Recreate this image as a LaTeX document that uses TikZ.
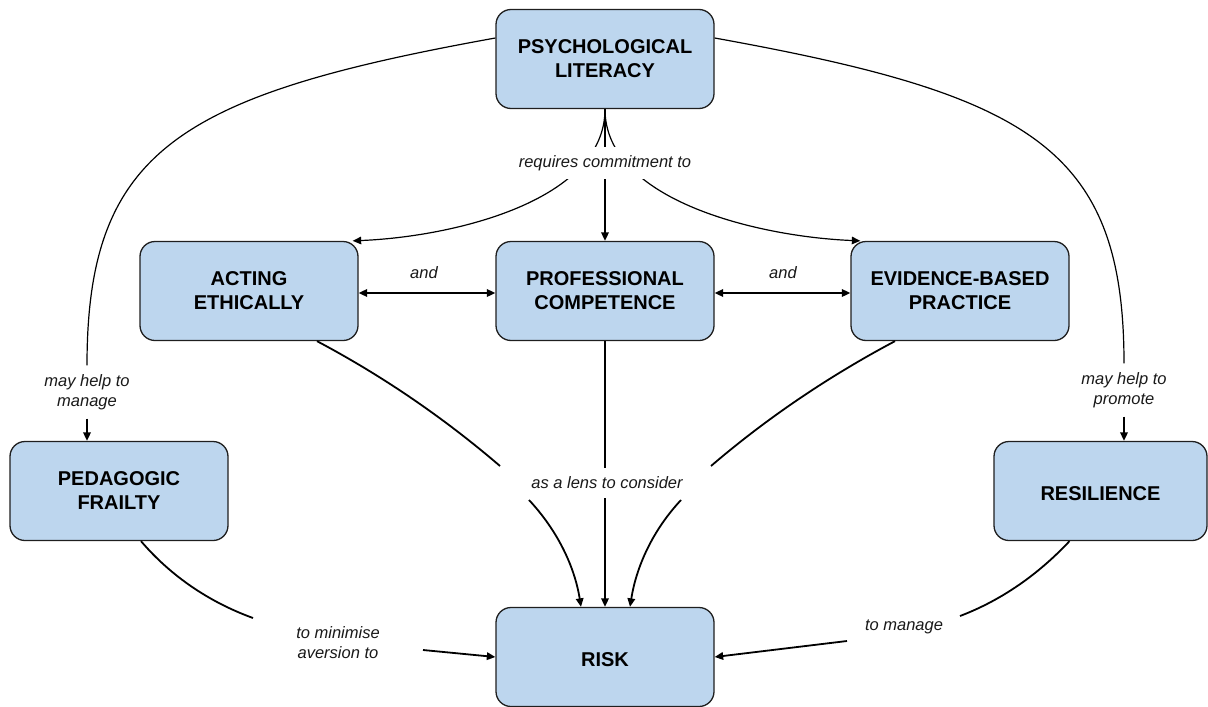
\documentclass[tikz,border=0pt]{standalone}
\usepackage{fontspec}
\setmainfont{Liberation Sans}
\usepackage{tikz}
\usetikzlibrary{arrows.meta, calc, positioning}

\definecolor{conceptblue}{RGB}{189,214,238}

\begin{document}
\begin{tikzpicture}[x=1pt, y=-1pt,
    >={Triangle[length=8.5pt, width=7.5pt]},
    concept/.style={draw=black!88, line width=1.3pt, fill=conceptblue,
        rounded corners=15pt, minimum width=218pt, minimum height=99pt,
        align=center, font=\fontsize{20}{24}\selectfont\bfseries,
        execute at begin node={\rule{0pt}{20pt}}},
    phrase/.style={fill=white, align=center, inner xsep=4pt, inner ysep=8.8pt,
        text=black!90, font=\fontsize{16.5}{20}\selectfont\itshape},
    thinlink/.style={line width=1.2pt},
    link/.style={line width=1.8pt}]
    \useasboundingbox (0,0) rectangle (1208,707);

    % Concepts
    \node[concept] (psy) at (605,59) {PSYCHOLOGICAL\\LITERACY};
    \node[concept] (ae) at (249,291) {ACTING\\ETHICALLY};
    \node[concept] (pc) at (605,291) {PROFESSIONAL\\COMPETENCE};
    \node[concept] (ebp) at (960,291) {EVIDENCE-BASED\\PRACTICE};
    \node[concept] (pf) at (119,491) {PEDAGOGIC\\FRAILTY};
    \node[concept, minimum width=213pt] (res) at (1100.5,491) {RESILIENCE};
    \node[concept] (risk) at (605,657) {RISK};

    % Links passing behind a phrase
    \draw[thinlink, ->] (psy.south) .. controls +(0,92) and +(100,-4) .. ([xshift=-6pt]ae.north east);
    \draw[thinlink, ->] (psy.south) .. controls +(0,92) and +(-100,-4) .. ([xshift=10pt]ebp.north west);
    \draw[link, ->] (psy) -- (pc);
    \draw[link, ->] (pc) -- (risk);

    % Linking phrases
    \node[phrase] (req) at (605,163) {requires commitment to};
    \node[phrase] (and1) at (424,273) {and};
    \node[phrase] (and2) at (783,273) {and};
    \node[phrase] (manage1) at (87,392) {may help to\\manage};
    \node[phrase] (promote) at (1124,390) {may help to\\promote};
    \node[phrase] (lens) at (607,483) {as a lens to consider};
    \node[phrase] (minimise) at (338,643) {to minimise\\aversion to};
    \node[phrase] (manage2) at (904,627) {to manage};

    % Links
    \draw[link, <->] ([yshift=-2pt]ae.east) -- ([yshift=-2pt]pc.west);
    \draw[link, <->] ([yshift=-2pt]pc.east) -- ([yshift=-2pt]ebp.west);

    \draw[thinlink] ([yshift=21pt]psy.west) .. controls +(-316,57) and +(0,-215) .. (manage1.north);
    \draw[link, ->] (manage1.south) -- (manage1.south |- pf.north);
    \draw[thinlink] ([yshift=21pt]psy.east) .. controls +(316,57) and +(0,-215) .. (promote.north);
    \draw[link, ->] (promote.south) -- (promote.south |- res.north);

    \draw[link] ([xshift=68pt]ae.south) .. controls +(66,35) and +(-56,-48) .. ([shift={(-107,-17)}]lens.center);
    \draw[link] ([xshift=-65pt]ebp.south) .. controls +(-66,35) and +(56,-48) .. ([shift={(104,-17)}]lens.center);
    \draw[link, ->] ([shift={(-78,17)}]lens.center) .. controls +(28,30) and +(-6.5,-41) .. ([xshift=-24pt]risk.north);
    \draw[link, ->] ([shift={(74,17)}]lens.center) .. controls +(-28,30) and +(6.5,-41) .. ([xshift=25pt]risk.north);

    \draw[link] ([xshift=22pt]pf.south) .. controls +(30,35) and +(-44,-16) .. ([shift={(-85,-25)}]minimise.center);
    \draw[link, ->] ([shift={(85,7)}]minimise.center) -- (risk.west);
    \draw[link] ([xshift=-31pt]res.south) .. controls +(-31,33) and +(42,-16) .. ([shift={(56,-11)}]manage2.center);
    \draw[link, ->] ([shift={(-57,14)}]manage2.center) -- (risk.east);
\end{tikzpicture}
\end{document}
